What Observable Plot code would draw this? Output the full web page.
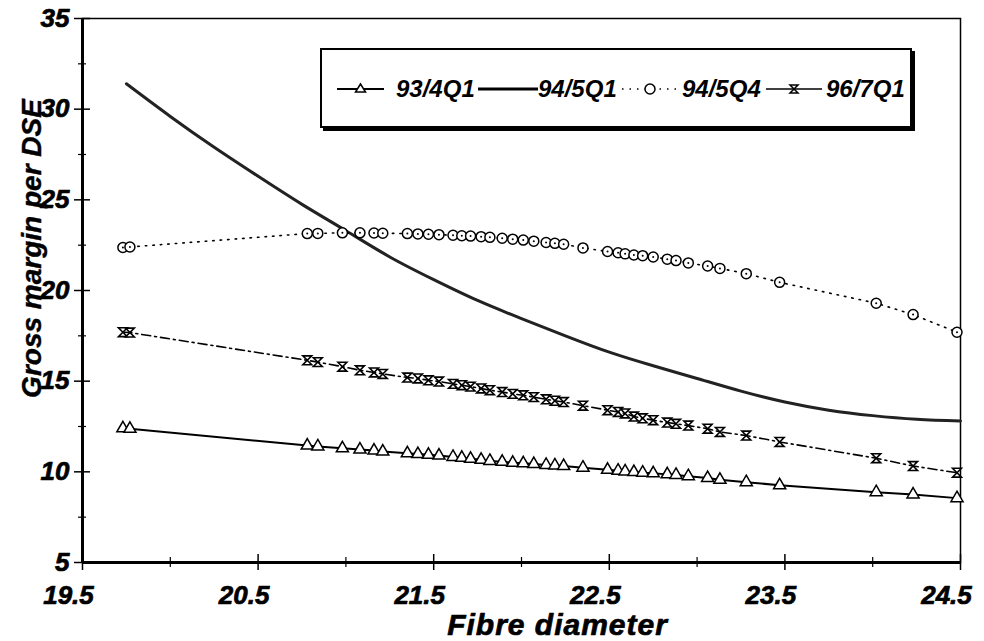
<!DOCTYPE html>
<html>
<head>
<meta charset="utf-8">
<script src="https://cdn.jsdelivr.net/npm/d3@7"></script>
<script src="https://cdn.jsdelivr.net/npm/@observablehq/plot@0.6"></script>
<style>
  html, body { margin: 0; padding: 0; background: #fff; }
  #wrap { position: relative; width: 984px; height: 641px; font-family: "Liberation Sans", Arial, sans-serif; }
  #legend { position: absolute; left: 320px; top: 48px; width: 592px; height: 80px; border: 2px solid #000; box-shadow: 3px 3px 0 #000; background: #fff; box-sizing: border-box; }
</style>
</head>
<body>
<div id="wrap"></div>
<script>
// ---- data ----
const seriesNames = ["93/4Q1", "94/5Q1", "94/5Q4", "96/7Q1"];
const fibre = [19.73, 19.77, 20.78, 20.84, 20.98, 21.08, 21.16, 21.21, 21.35, 21.41, 21.47, 21.53, 21.61, 21.66, 21.71, 21.77, 21.82, 21.89, 21.95, 22.01, 22.07, 22.14, 22.19, 22.24, 22.35, 22.49, 22.55, 22.59, 22.64, 22.69, 22.75, 22.83, 22.88, 22.95, 23.06, 23.13, 23.28, 23.47, 24.02, 24.23, 24.48];
const gm93Q1 = [12.4, 12.37, 11.45, 11.4, 11.3, 11.23, 11.17, 11.12, 11.02, 10.98, 10.94, 10.9, 10.82, 10.77, 10.72, 10.66, 10.6, 10.55, 10.5, 10.47, 10.43, 10.38, 10.35, 10.32, 10.23, 10.11, 10.06, 10.02, 9.99, 9.95, 9.92, 9.86, 9.83, 9.76, 9.66, 9.56, 9.43, 9.26, 8.88, 8.75, 8.55];
const gm94Q4 = [22.37, 22.4, 23.14, 23.15, 23.18, 23.18, 23.17, 23.16, 23.14, 23.12, 23.1, 23.08, 23.05, 23.02, 23.0, 22.97, 22.93, 22.88, 22.83, 22.78, 22.72, 22.65, 22.6, 22.55, 22.35, 22.15, 22.08, 22.02, 21.96, 21.92, 21.85, 21.73, 21.65, 21.52, 21.35, 21.22, 20.93, 20.45, 19.3, 18.67, 17.7];
const gm96Q1 = [17.7, 17.68, 16.15, 16.05, 15.8, 15.6, 15.48, 15.4, 15.2, 15.15, 15.05, 14.98, 14.85, 14.78, 14.7, 14.6, 14.5, 14.4, 14.3, 14.22, 14.12, 14.0, 13.92, 13.85, 13.65, 13.4, 13.3, 13.22, 13.05, 12.95, 12.85, 12.72, 12.65, 12.55, 12.38, 12.2, 12.0, 11.65, 10.75, 10.32, 9.95];
const curveFibre = [19.75, 20.0, 20.25, 20.5, 20.75, 21.0, 21.25, 21.5, 21.75, 22.0, 22.25, 22.5, 22.75, 23.0, 23.25, 23.5, 23.75, 24.0, 24.25, 24.5];
const gm94Q1 = [31.4, 29.6, 27.9, 26.3, 24.75, 23.3, 21.85, 20.6, 19.45, 18.45, 17.5, 16.6, 15.85, 15.15, 14.45, 13.85, 13.4, 13.1, 12.9, 12.8];
const xLabelTicks = [19.5, 20.5, 21.5, 22.5, 23.5, 24.5];
const xMinorTicks = [20, 21, 22, 23, 24];
const yLabelTicks = [5, 10, 15, 20, 25, 30, 35];
const yMinorTicks = [7.5, 12.5, 17.5, 22.5, 27.5, 32.5];
const xTitle = "Fibre diameter";
const yTitle = "Gross margin per DSE";

// ---- tables ----
const pts = (ys) => fibre.map((x, i) => ({x, y: ys[i]}));
const t93 = pts(gm93Q1), t94q4 = pts(gm94Q4), t96 = pts(gm96Q1);
const tCurve = curveFibre.map((x, i) => ({x, y: gm94Q1[i]}));

const hourglass = {
  draw(ctx, size) {
    const r = Math.sqrt(size) / 2;
    ctx.moveTo(-r, -r); ctx.lineTo(r, -r); ctx.lineTo(-r, r); ctx.lineTo(r, r); ctx.closePath();
  }
};

const W = 984, H = 641, mL = 82, mR = 24, mT = 18, mB = 79;
const pw = W - mL - mR, ph = H - mT - mB;
const ff = "Liberation Sans, Arial, sans-serif";
const bi = {fontFamily: ff, fontWeight: "bold", fontStyle: "italic", fill: "#000", stroke: "#000", strokeWidth: 0.7};

const chart = Plot.plot({
  width: W, height: H,
  marginLeft: mL, marginRight: mR, marginTop: mT, marginBottom: mB,
  x: {domain: [19.5, 24.5], axis: null},
  y: {domain: [5, 35], axis: null},
  style: {background: "#fff", color: "#000", fontFamily: ff, fontWeight: "bold", fontStyle: "italic"},
  marks: [
    Plot.frame({stroke: "#000", strokeWidth: 1.5}),
    Plot.ruleX([19.5], {stroke: "#000", strokeWidth: 3}),
    Plot.ruleY([5], {stroke: "#000", strokeWidth: 3}),
    // ticks crossing the axes
    Plot.ruleY(yLabelTicks, {insetLeft: -8, insetRight: pw - 8, stroke: "#000", strokeWidth: 1.5}),
    Plot.ruleY(yMinorTicks, {insetLeft: -4, insetRight: pw - 4, stroke: "#000", strokeWidth: 1.2}),
    Plot.ruleX(xLabelTicks, {insetBottom: -8, insetTop: ph - 8, stroke: "#000", strokeWidth: 1.5}),
    Plot.ruleX(xMinorTicks, {insetBottom: -5, insetTop: ph - 5, stroke: "#000", strokeWidth: 1.2}),
    // tick labels
    Plot.text(xLabelTicks, {x: d => d, frameAnchor: "bottom", lineAnchor: "middle", dy: 33, dx: -14, text: d3.format(".1f"), fontSize: 26, ...bi}),
    Plot.text(yLabelTicks, {y: d => d, frameAnchor: "left", textAnchor: "end", lineAnchor: "middle", dx: -13, text: d => String(d), fontSize: 26, ...bi}),
    // titles
    Plot.text([xTitle], {frameAnchor: "bottom", lineAnchor: "middle", dx: 36, dy: 63, fontSize: 30, ...bi, text: d => d}),
    Plot.text([yTitle], {frameAnchor: "left", textAnchor: "middle", dx: -50, dy: -42, rotate: -90, fontSize: 28, ...bi, strokeWidth: 0.4, text: d => d}),
    // series
    Plot.line(tCurve, {x: "x", y: "y", curve: "natural", stroke: "#222", strokeWidth: 3}),
    Plot.line(t93, {x: "x", y: "y", stroke: "#000", strokeWidth: 2}),
    Plot.line(t94q4, {x: "x", y: "y", stroke: "#000", strokeWidth: 1.6, strokeDasharray: "1.5,6"}),
    Plot.line(t96, {x: "x", y: "y", stroke: "#000", strokeWidth: 1.6, strokeDasharray: "9,4,2,4"}),
    Plot.dot(t93, {x: "x", y: "y", symbol: "triangle", r: 4.5, fill: "#fff", stroke: "#000", strokeWidth: 1.5}),
    Plot.dot(t94q4, {x: "x", y: "y", symbol: "circle", r: 5, fill: "#fff", stroke: "#000", strokeWidth: 1.5}),
    Plot.dot(t94q4, {x: "x", y: "y", r: 1, fill: "#000"}),
    Plot.dot(t96, {x: "x", y: "y", symbol: hourglass, r: 5, fill: "#fff", stroke: "#000", strokeWidth: 1.6})
  ]
});

chart.querySelectorAll("text").forEach(t => {
  t.style.fontWeight = "bold";
  t.style.fontStyle = "italic";
  if (t.textContent === xTitle) t.style.letterSpacing = "1px";
});

const wrap = document.getElementById("wrap");
wrap.appendChild(chart);

// legend (overlay box inside plot area)
const lg = document.createElement("div");
lg.id = "legend";
const ns = "http://www.w3.org/2000/svg";
const svg = document.createElementNS(ns, "svg");
svg.setAttribute("width", 588); svg.setAttribute("height", 76);
svg.style.position = "absolute"; svg.style.left = "0"; svg.style.top = "0";
const items = [
  {name: seriesNames[0], x0: 15, x1: 62, textX: 74, dash: null, sw: 2, marker: "tri"},
  {name: seriesNames[1], x0: 156, x1: 216, textX: 216, dash: null, sw: 3, marker: null},
  {name: seriesNames[2], x0: 300, x1: 356, textX: 360, dash: "1.5,6", sw: 1.6, marker: "circ"},
  {name: seriesNames[3], x0: 444, x1: 500, textX: 504, dash: null, sw: 1.6, marker: "hour"}
];
const cy = 39;
for (const it of items) {
  const l = document.createElementNS(ns, "line");
  l.setAttribute("x1", it.x0); l.setAttribute("x2", it.x1); l.setAttribute("y1", cy); l.setAttribute("y2", cy);
  l.setAttribute("stroke", "#000"); l.setAttribute("stroke-width", it.sw);
  if (it.dash) l.setAttribute("stroke-dasharray", it.dash);
  svg.appendChild(l);
  const mx = (it.x0 + it.x1) / 2;
  if (it.marker) {
    const p = document.createElementNS(ns, "path");
    let d;
    if (it.marker === "tri") d = `M${mx},${cy-5}L${mx+5},${cy+3}L${mx-5},${cy+3}Z`;
    if (it.marker === "circ") d = `M${mx+5},${cy}A5,5 0 1,1 ${mx-5},${cy}A5,5 0 1,1 ${mx+5},${cy}Z`;
    if (it.marker === "hour") d = `M${mx-4},${cy-4}L${mx+4},${cy-4}L${mx-4},${cy+4}L${mx+4},${cy+4}Z`;
    p.setAttribute("d", d); p.setAttribute("fill", "#fff"); p.setAttribute("stroke", "#000"); p.setAttribute("stroke-width", 1.5);
    svg.appendChild(p);
  }
  const t = document.createElementNS(ns, "text");
  t.setAttribute("x", it.textX); t.setAttribute("y", cy); t.setAttribute("dy", "0.35em");
  t.setAttribute("font-family", ff);
  t.setAttribute("font-weight", "bold"); t.setAttribute("font-style", "italic"); t.setAttribute("font-size", 24);
  t.textContent = it.name;
  svg.appendChild(t);
}
lg.appendChild(svg);
wrap.appendChild(lg);
</script>
</body>
</html>
